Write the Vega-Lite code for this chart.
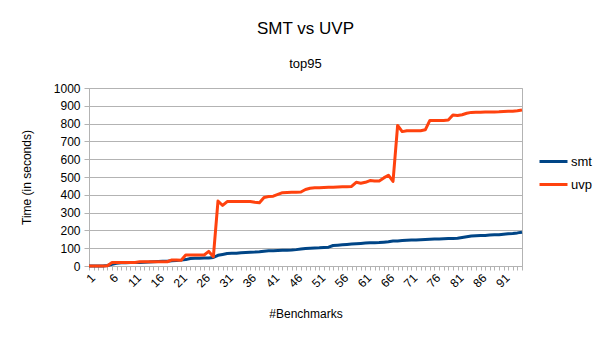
{
  "$schema": "https://vega.github.io/schema/vega-lite/v6.json",
  "width": 433,
  "height": 178,
  "padding": {"left": 20, "top": 20, "right": 5, "bottom": 5},
  "config": {
    "font": "Liberation Sans",
    "view": {"stroke": "#b3b3b3"},
    "legend": {"legendX": 449, "legendY": 58}
  },
  "title": {
    "text": "SMT vs UVP",
    "subtitle": "top95",
    "fontSize": 17,
    "fontWeight": "normal",
    "color": "#000000",
    "subtitleFontSize": 13,
    "subtitleColor": "#000000",
    "subtitlePadding": 20,
    "offset": 10,
    "anchor": "middle",
    "frame": "group"
  },
  "data": {
    "values": [
      {"i":1,"smt":0,"uvp":0},{"i":2,"smt":0,"uvp":0},{"i":3,"smt":0,"uvp":0},{"i":4,"smt":0,"uvp":0},
      {"i":5,"smt":3,"uvp":2},{"i":6,"smt":10,"uvp":20},{"i":7,"smt":15,"uvp":20},{"i":8,"smt":18,"uvp":20},
      {"i":9,"smt":18,"uvp":20},{"i":10,"smt":19,"uvp":20},{"i":11,"smt":20,"uvp":20},{"i":12,"smt":20,"uvp":24},
      {"i":13,"smt":21,"uvp":24},{"i":14,"smt":22,"uvp":24},{"i":15,"smt":24,"uvp":24},{"i":16,"smt":25,"uvp":24},
      {"i":17,"smt":26,"uvp":24},{"i":18,"smt":27,"uvp":24},{"i":19,"smt":30,"uvp":34},{"i":20,"smt":31,"uvp":34},
      {"i":21,"smt":33,"uvp":32},{"i":22,"smt":36,"uvp":62},{"i":23,"smt":42,"uvp":62},{"i":24,"smt":43,"uvp":62},
      {"i":25,"smt":44,"uvp":62},{"i":26,"smt":45,"uvp":62},{"i":27,"smt":45,"uvp":82},{"i":28,"smt":48,"uvp":52},
      {"i":29,"smt":60,"uvp":365},{"i":30,"smt":65,"uvp":340},{"i":31,"smt":70,"uvp":362},{"i":32,"smt":71,"uvp":362},
      {"i":33,"smt":72,"uvp":362},{"i":34,"smt":75,"uvp":362},{"i":35,"smt":76,"uvp":362},{"i":36,"smt":77,"uvp":362},
      {"i":37,"smt":78,"uvp":358},{"i":38,"smt":80,"uvp":355},{"i":39,"smt":83,"uvp":385},{"i":40,"smt":85,"uvp":390},
      {"i":41,"smt":86,"uvp":392},{"i":42,"smt":87,"uvp":402},{"i":43,"smt":88,"uvp":412},{"i":44,"smt":89,"uvp":413},
      {"i":45,"smt":90,"uvp":414},{"i":46,"smt":92,"uvp":415},{"i":47,"smt":95,"uvp":416},{"i":48,"smt":98,"uvp":430},
      {"i":49,"smt":100,"uvp":437},{"i":50,"smt":101,"uvp":439},{"i":51,"smt":102,"uvp":440},{"i":52,"smt":104,"uvp":441},
      {"i":53,"smt":106,"uvp":442},{"i":54,"smt":115,"uvp":443},{"i":55,"smt":117,"uvp":444},{"i":56,"smt":119,"uvp":445},
      {"i":57,"smt":121,"uvp":445},{"i":58,"smt":123,"uvp":447},{"i":59,"smt":125,"uvp":470},{"i":60,"smt":127,"uvp":465},
      {"i":61,"smt":129,"uvp":470},{"i":62,"smt":131,"uvp":480},{"i":63,"smt":131,"uvp":477},{"i":64,"smt":132,"uvp":478},
      {"i":65,"smt":134,"uvp":495},{"i":66,"smt":136,"uvp":510},{"i":67,"smt":140,"uvp":475},{"i":68,"smt":141,"uvp":790},
      {"i":69,"smt":143,"uvp":755},{"i":70,"smt":145,"uvp":760},{"i":71,"smt":146,"uvp":760},{"i":72,"smt":146,"uvp":760},
      {"i":73,"smt":148,"uvp":760},{"i":74,"smt":149,"uvp":765},{"i":75,"smt":150,"uvp":818},{"i":76,"smt":151,"uvp":818},
      {"i":77,"smt":152,"uvp":818},{"i":78,"smt":153,"uvp":818},{"i":79,"smt":154,"uvp":820},{"i":80,"smt":155,"uvp":848},
      {"i":81,"smt":156,"uvp":845},{"i":82,"smt":160,"uvp":850},{"i":83,"smt":164,"uvp":858},{"i":84,"smt":168,"uvp":863},
      {"i":85,"smt":170,"uvp":864},{"i":86,"smt":171,"uvp":864},{"i":87,"smt":172,"uvp":865},{"i":88,"smt":174,"uvp":865},
      {"i":89,"smt":175,"uvp":865},{"i":90,"smt":176,"uvp":866},{"i":91,"smt":179,"uvp":868},{"i":92,"smt":181,"uvp":869},
      {"i":93,"smt":183,"uvp":870},{"i":94,"smt":186,"uvp":872},{"i":95,"smt":190,"uvp":876}
    ]
  },
  "transform": [{"fold": ["smt", "uvp"], "as": ["series", "time"]}],
  "mark": {"type": "line", "strokeWidth": 3, "strokeJoin": "round"},
  "encoding": {
    "x": {
      "field": "i",
      "type": "ordinal",
      "sort": "ascending",
      "scale": {"type": "point", "padding": 0},
      "axis": {
        "title": "#Benchmarks",
        "titleFontSize": 12,
        "titleFontWeight": "normal",
        "titleColor": "#000000",
        "titlePadding": 19,
        "labelAngle": -45,
        "labelFontSize": 12,
        "labelColor": "#000000",
        "labelOverlap": false,
        "labelExpr": "(datum.value - 1) % 5 == 0 ? datum.label : ''",
        "domainColor": "#b3b3b3",
        "tickColor": "#b3b3b3",
        "tickSize": 4,
        "grid": false
      }
    },
    "y": {
      "field": "time",
      "type": "quantitative",
      "scale": {"domain": [0, 1000], "nice": false},
      "axis": {
        "title": "Time (in seconds)",
        "titleFontSize": 12,
        "titleFontWeight": "normal",
        "titleColor": "#000000",
        "titlePadding": 20,
        "format": "d",
        "values": [0,100,200,300,400,500,600,700,800,900,1000],
        "labelFontSize": 12,
        "labelColor": "#000000",
        "labelPadding": 4,
        "gridColor": "#b3b3b3",
        "domainColor": "#b3b3b3",
        "tickColor": "#b3b3b3",
        "tickSize": 5
      }
    },
    "color": {
      "field": "series",
      "type": "nominal",
      "scale": {"domain": ["smt", "uvp"], "range": ["#004586", "#ff420e"]},
      "legend": {
        "title": null,
        "orient": "none",
        "symbolType": "stroke",
        "symbolStrokeWidth": 3,
        "symbolSize": 784,
        "labelFontSize": 13,
        "labelColor": "#000000",
        "labelOffset": 2,
        "rowPadding": -9
      }
    }
  }
}
